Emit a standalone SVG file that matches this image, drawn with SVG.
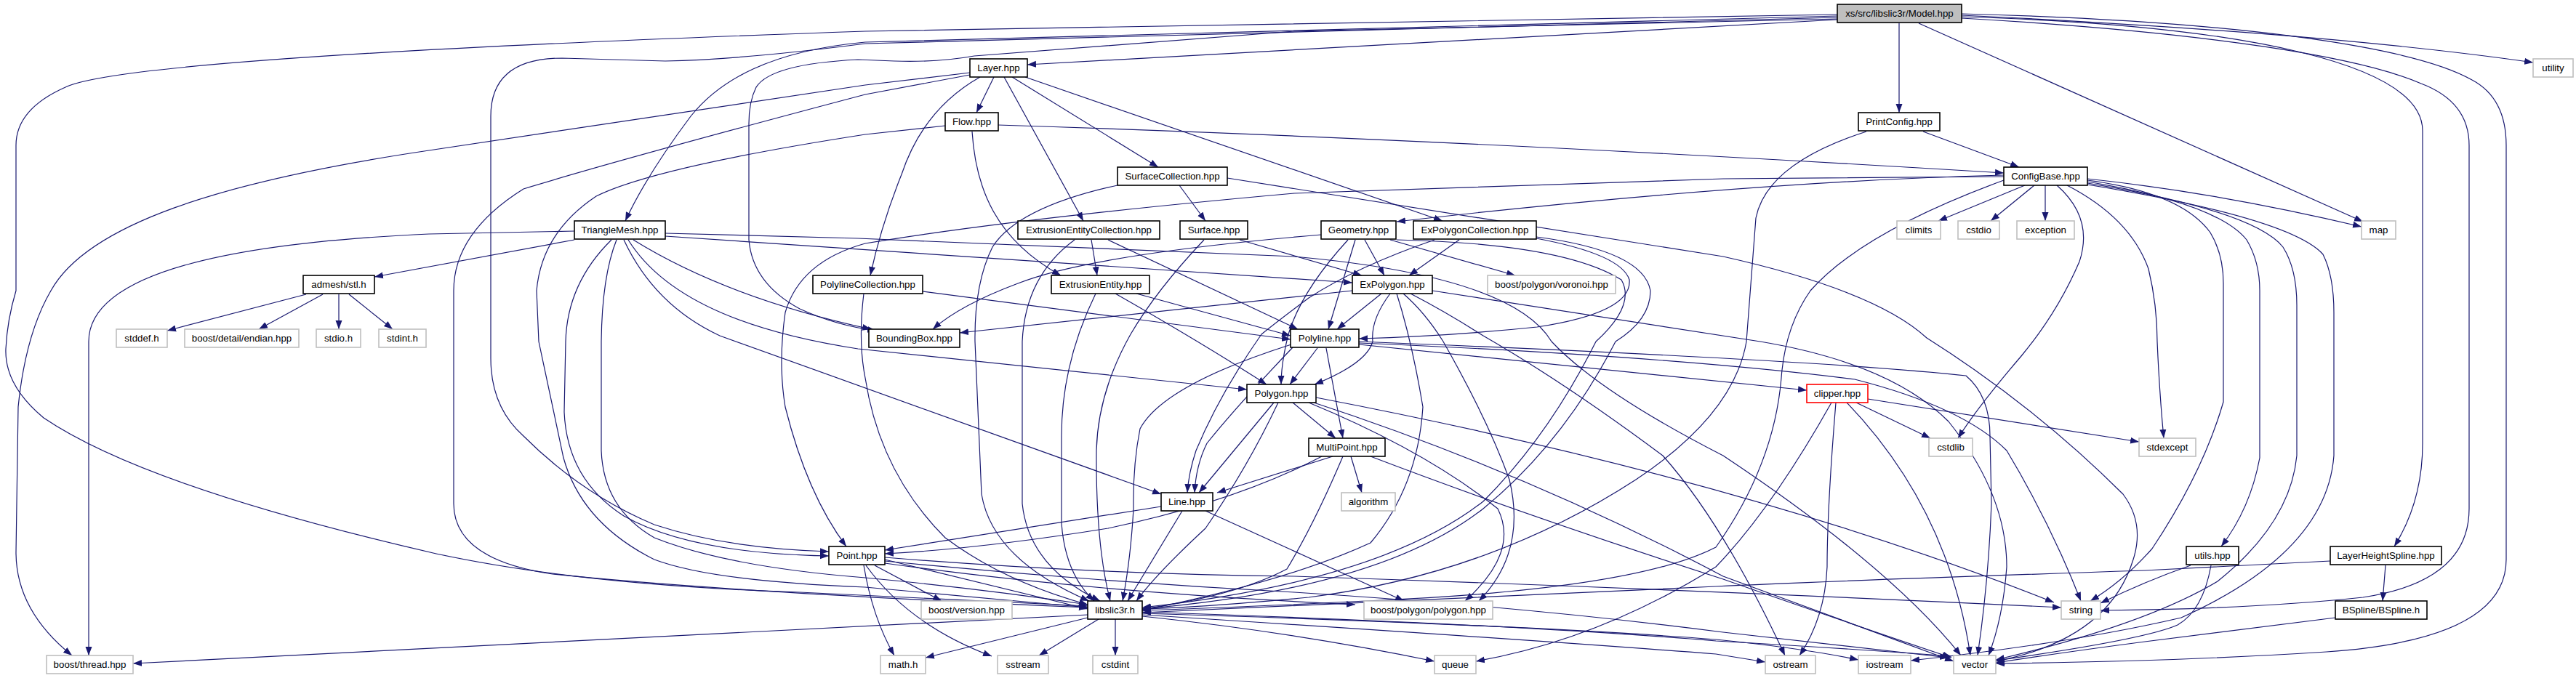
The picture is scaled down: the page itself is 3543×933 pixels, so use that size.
<svg xmlns="http://www.w3.org/2000/svg" width="3543" height="933" viewBox="0 0 3543 933">
<style>
.n rect{fill:#fff;stroke:#000;stroke-width:1.6}
.s rect{fill:#fff;stroke:#bfbfbf;stroke-width:1.6}
.m rect{fill:#bfbfbf;stroke:#000;stroke-width:1.6}
.r rect{fill:#fff;stroke:#ff0000;stroke-width:1.6}
text{font-family:"Liberation Sans",Arial,sans-serif;font-size:13.3px;text-anchor:middle;fill:#000}
#edges path{fill:none;stroke:#191970;stroke-width:1.2;marker-end:url(#a)}
</style>
<defs>
<marker id="a" markerUnits="userSpaceOnUse" markerWidth="12" markerHeight="10" refX="12" refY="5" orient="auto"><path d="M0,0.5 L12,5 L0,9.5 z" fill="#191970"/></marker>
</defs>
<rect width="3543" height="933" fill="#fff"/>
<g id="edges">
<path d="M2527 27 L1413 89"/>
<path d="M2527 20 L1190 43 C700 60 160 85 90 120 Q22 150 22 200 L22 400 Q10 440 8 480 Q6 530 60 575 Q200 670 600 762 Q800 805 1100 815 L1496 834"/>
<path d="M2612 32 L2612 155"/>
<path d="M2639 32 L3250 305"/>
<path d="M2698 21 Q3200 45 3484 86"/>
<path d="M2698 23 C3100 35 3332 90 3332 180 L3332 610 Q3332 690 3293 752"/>
<path d="M2698 25 C3050 45 3250 80 3330 115 Q3396 140 3396 200 L3396 700 Q3396 800 3250 822 Q3100 838 2889 840"/>
<path d="M2698 19 C3120 30 3330 70 3400 110 Q3447 135 3447 200 L3447 770 Q3447 880 3200 897 Q3000 910 2745 913"/>
<path d="M2527 22 L1190 58 C1060 70 990 110 950 160 Q890 240 860 304"/>
<path d="M2527 24 L1190 60 Q1020 82 915 84 L773 80 Q675 80 675 160 L675 493 Q675 560 720 600 Q800 680 900 722 Q1000 755 1140 759"/>
<path d="M2527 26 L1780 43 L1340 77 Q1290 86 1230 84 L1180 82 Q1060 88 1040 120 Q1030 140 1030 170 L1030 330 Q1035 390 1100 425 Q1150 448 1205 455"/>
<path d="M1334 100 L1190 117 Q820 172 590 207 C300 250 120 310 70 400 Q35 460 25 560 L22 760 Q22 840 99 902"/>
<path d="M1334 103 L1190 130 Q850 220 720 260 Q624 320 624 400 L624 693 Q624 770 760 790 Q1000 815 1496 836"/>
<path d="M1367 106 L1343 155"/>
<path d="M1392 106 L1593 230"/>
<path d="M1381 106 L1490 304"/>
<path d="M1410 106 L1984 304"/>
<path d="M1348 106 Q1270 150 1240 240 Q1212 310 1197 379"/>
<path d="M1373 172 Q2000 192 2756 238"/>
<path d="M1337 181 C1342 260 1370 330 1459 379"/>
<path d="M1300 173 L1190 185 Q900 230 820 270 Q745 320 738 400 L741 470 Q760 560 775 630 Q800 720 900 770 Q980 800 1190 808 L1496 836"/>
<path d="M2645 181 L2777 230"/>
<path d="M2567 181 Q2430 225 2415 300 L2402 470 Q2385 570 2250 660 Q2050 790 1800 822 Q1650 836 1571 838"/>
<path d="M790 318 L590 322 C300 335 122 380 122 470 L122 902"/>
<path d="M790 330 L515 381"/>
<path d="M841 330 Q780 390 778 470 L776 567 Q780 660 858 710 Q950 762 1140 765"/>
<path d="M848 330 Q828 380 827 470 L827 620 Q830 700 900 740 Q1000 780 1190 795 Q1350 810 1496 832"/>
<path d="M858 330 Q900 420 990 462 L1597 680"/>
<path d="M864 330 C920 420 1050 460 1180 480 L1715 536"/>
<path d="M871 330 Q1000 410 1198 453"/>
<path d="M915 325 L1860 389"/>
<path d="M915 321 L1180 328 Q1600 345 1780 353 Q2080 380 2134 470 Q2200 540 2370 627 Q2600 780 2697 902"/>
<path d="M421 405 L230 455"/>
<path d="M444 405 L356 453"/>
<path d="M466 405 L466 453"/>
<path d="M480 405 L540 453"/>
<path d="M1622 255 L1658 304"/>
<path d="M1537 255 Q1400 285 1365 340 Q1340 390 1341 470 L1350 680 Q1365 770 1498 827"/>
<path d="M1688 245 L2370 353 Q2580 400 2650 465 Q2800 560 2920 680 Q2950 720 2934 770 Q2900 880 2745 910"/>
<path d="M1501 330 L1509 379"/>
<path d="M1478 330 Q1410 380 1406 470 L1406 693 Q1415 780 1513 827"/>
<path d="M1524 330 L1785 453"/>
<path d="M1705 330 L1873 379"/>
<path d="M1656 330 Q1590 400 1555 460 Q1510 540 1508 620 Q1507 750 1527 827"/>
<path d="M2785 255 L2666 304"/>
<path d="M2798 255 L2738 304"/>
<path d="M2813 255 L2813 304"/>
<path d="M2829 255 Q2880 300 2860 360 Q2830 430 2780 490 Q2720 560 2693 603"/>
<path d="M2843 255 Q2930 300 2955 370 Q2967 420 2967 470 Q2970 540 2976 603"/>
<path d="M2871 246 Q3050 265 3248 312"/>
<path d="M2871 248 Q3000 265 3040 320 Q3058 350 3058 390 L3058 553 Q3030 650 2960 755 Q2920 800 2875 827"/>
<path d="M2871 250 Q3050 280 3090 330 Q3108 360 3108 400 L3108 630 Q3095 700 3055 752"/>
<path d="M2871 252 Q3100 290 3140 340 Q3159 370 3159 420 L3159 627 Q3150 720 3050 800 Q2950 860 2745 908"/>
<path d="M2871 254 Q3150 300 3195 350 Q3210 380 3210 430 L3210 627 Q3200 760 3000 850 Q2850 885 2628 909"/>
<path d="M2756 248 Q2560 320 2490 400 Q2455 450 2450 520 Q2440 640 2360 753 Q2250 810 1900 826 Q1700 836 1571 840"/>
<path d="M2756 243 L2370 246 L1780 266 Q1400 300 1190 335 Q1100 360 1080 430 Q1070 500 1080 560 Q1110 680 1164 752"/>
<path d="M2756 241 Q2400 250 1921 305"/>
<path d="M3013 778 Q2950 800 2889 830"/>
<path d="M3041 778 Q3030 840 2995 860 Q2950 880 2745 909"/>
<path d="M3281 778 L3277 827"/>
<path d="M3205 772 L2950 785 Q2500 800 2360 807 Q2000 825 1571 843"/>
<path d="M3212 850 L2950 883 Q2850 896 2745 912"/>
<path d="M1817 323 Q1500 350 1400 390 Q1320 420 1283 453"/>
<path d="M1864 330 L1827 453"/>
<path d="M1877 330 L1904 379"/>
<path d="M1912 330 L2084 379"/>
<path d="M1854 330 Q1790 400 1772 460 Q1762 500 1762 529"/>
<path d="M1921 330 Q2150 335 2230 385 Q2250 420 2195 470 Q2130 600 2040 690 Q1900 800 1571 836"/>
<path d="M2007 330 L1938 379"/>
<path d="M1973 330 Q1866 367 1800 410 Q1760 440 1735 460 Q1677 543 1645 620 Q1635 650 1633 678"/>
<path d="M2113 328 Q2230 350 2241 385 Q2245 430 2114 450 Q2000 462 1869 466"/>
<path d="M2113 326 Q2260 345 2270 400 Q2270 440 2222 470 Q2150 610 2040 700 Q1900 810 1571 838"/>
<path d="M1507 404 Q1460 500 1460 600 L1460 720 Q1465 790 1505 827"/>
<path d="M1534 404 Q1650 470 1742 529"/>
<path d="M1563 404 L1775 462"/>
<path d="M1269 401 L1775 467"/>
<path d="M1188 404 Q1180 470 1190 520 Q1210 650 1300 740 Q1380 800 1496 832"/>
<path d="M1900 404 L1839 453"/>
<path d="M1912 404 Q1885 440 1888 470 Q1880 500 1808 529"/>
<path d="M1921 404 Q1942 470 1957 560 Q1950 670 1885 747 Q1770 800 1571 840"/>
<path d="M1930 404 Q1960 430 1985 470 Q2046 577 2076 660 Q2100 760 2034 827"/>
<path d="M1940 404 Q1990 430 2040 462 Q2153 527 2287 627 Q2370 720 2455 902"/>
<path d="M1970 400 L2421 470 Q2600 500 2680 580 Q2760 680 2760 780 Q2755 850 2735 902"/>
<path d="M1812 479 L1774 529"/>
<path d="M1824 479 L1847 603"/>
<path d="M1869 470 Q2500 495 2704 517 Q2737 545 2737 600 L2739 693 Q2735 800 2720 902"/>
<path d="M1869 472 Q2300 490 2551 522 Q2700 560 2760 620 Q2820 720 2862 827"/>
<path d="M1869 474 L2485 537"/>
<path d="M1778 478 Q1700 560 1660 610 Q1645 640 1643 678"/>
<path d="M1776 474 Q1600 530 1568 590 Q1558 640 1559 700 Q1555 770 1544 827"/>
<path d="M1752 554 L1649 678"/>
<path d="M1758 554 Q1716 643 1658 727 Q1590 790 1563 827"/>
<path d="M1778 554 L1837 603"/>
<path d="M1810 547 Q2400 660 2825 829"/>
<path d="M1804 553 Q2100 650 2370 793 Q2550 860 2687 910"/>
<path d="M1800 554 Q1960 620 2060 700 Q2090 760 2015 827"/>
<path d="M1858 628 L1873 678"/>
<path d="M1847 628 Q1808 720 1770 783 Q1700 820 1571 838"/>
<path d="M1833 628 L1674 678"/>
<path d="M1818 628 Q1700 690 1524 727 Q1350 755 1217 762"/>
<path d="M1885 628 Q2100 710 2370 797 Q2550 860 2684 905"/>
<path d="M1597 697 L1217 757"/>
<path d="M1626 703 L1551 827"/>
<path d="M1658 703 L1931 827"/>
<path d="M1217 770 L1496 838"/>
<path d="M1203 778 L1295 827"/>
<path d="M1188 778 Q1200 850 1230 902"/>
<path d="M1191 778 Q1250 860 1364 903"/>
<path d="M1217 767 Q1500 790 1780 793 Q2300 810 2835 836"/>
<path d="M1217 772 Q1500 800 1780 815 Q2100 835 2370 870 Q2550 890 2680 905"/>
<path d="M1217 775 Q1500 815 1864 832"/>
<path d="M1496 846 L183 913"/>
<path d="M1496 850 L1273 905"/>
<path d="M1511 852 L1429 902"/>
<path d="M1534 852 L1534 902"/>
<path d="M1571 848 Q1780 870 1973 910"/>
<path d="M1571 846 Q2100 880 2360 900 L2428 911"/>
<path d="M1571 844 Q2100 860 2360 880 Q2480 892 2556 908"/>
<path d="M1571 842 Q2100 860 2360 882 Q2550 893 2684 903"/>
<path d="M2553 554 L2655 603"/>
<path d="M2569 549 L2942 608"/>
<path d="M2540 554 Q2680 700 2710 902"/>
<path d="M2525 554 Q2513 700 2513 780 Q2510 850 2475 902"/>
<path d="M2519 554 Q2437 700 2360 780 Q2200 880 2030 910"/>
<path d="M1860 400 L1320 458"/>
</g>
<g id="nodes">
<g id="model" class="m"><rect x="2527" y="6" width="171" height="25"/><text x="2612.5" y="23">xs/src/libslic3r/Model.hpp</text></g>
<g id="layer" class="n"><rect x="1334" y="81" width="79" height="25"/><text x="1373.5" y="98">Layer.hpp</text></g>
<g id="printconfig" class="n"><rect x="2556" y="155" width="112" height="25"/><text x="2612" y="172">PrintConfig.hpp</text></g>
<g id="utility" class="s"><rect x="3484" y="81" width="55" height="25"/><text x="3511.5" y="98">utility</text></g>
<g id="flow" class="n"><rect x="1300" y="155" width="73" height="25"/><text x="1336.5" y="172">Flow.hpp</text></g>
<g id="surfacecollection" class="n"><rect x="1537" y="230" width="151" height="25"/><text x="1612.5" y="247">SurfaceCollection.hpp</text></g>
<g id="configbase" class="n"><rect x="2756" y="230" width="115" height="25"/><text x="2813.5" y="247">ConfigBase.hpp</text></g>
<g id="trianglemesh" class="n"><rect x="790" y="304" width="125" height="25"/><text x="852.5" y="321">TriangleMesh.hpp</text></g>
<g id="eec" class="n"><rect x="1400" y="304" width="195" height="25"/><text x="1497.5" y="321">ExtrusionEntityCollection.hpp</text></g>
<g id="surface" class="n"><rect x="1623" y="304" width="93" height="25"/><text x="1669.5" y="321">Surface.hpp</text></g>
<g id="geometry" class="n"><rect x="1817" y="304" width="103" height="25"/><text x="1868.5" y="321">Geometry.hpp</text></g>
<g id="expolygoncollection" class="n"><rect x="1944" y="304" width="169" height="25"/><text x="2028.5" y="321">ExPolygonCollection.hpp</text></g>
<g id="climits" class="s"><rect x="2609" y="304" width="60" height="25"/><text x="2639" y="321">climits</text></g>
<g id="cstdio" class="s"><rect x="2693" y="304" width="57" height="25"/><text x="2721.5" y="321">cstdio</text></g>
<g id="exception" class="s"><rect x="2774" y="304" width="79" height="25"/><text x="2813.5" y="321">exception</text></g>
<g id="map" class="s"><rect x="3248" y="304" width="47" height="25"/><text x="3271.5" y="321">map</text></g>
<g id="admesh" class="n"><rect x="417" y="379" width="98" height="25"/><text x="466" y="396">admesh/stl.h</text></g>
<g id="polylinecollection" class="n"><rect x="1118" y="379" width="151" height="25"/><text x="1193.5" y="396">PolylineCollection.hpp</text></g>
<g id="extrusionentity" class="n"><rect x="1446" y="379" width="135" height="25"/><text x="1513.5" y="396">ExtrusionEntity.hpp</text></g>
<g id="expolygon" class="n"><rect x="1860" y="379" width="110" height="25"/><text x="1915" y="396">ExPolygon.hpp</text></g>
<g id="voronoi" class="s"><rect x="2046" y="379" width="176" height="25"/><text x="2134" y="396">boost/polygon/voronoi.hpp</text></g>
<g id="stddef" class="s"><rect x="160" y="453" width="70" height="25"/><text x="195" y="470">stddef.h</text></g>
<g id="endian" class="s"><rect x="254" y="453" width="157" height="25"/><text x="332.5" y="470">boost/detail/endian.hpp</text></g>
<g id="stdio" class="s"><rect x="435" y="453" width="61" height="25"/><text x="465.5" y="470">stdio.h</text></g>
<g id="stdint" class="s"><rect x="521" y="453" width="65" height="25"/><text x="553.5" y="470">stdint.h</text></g>
<g id="boundingbox" class="n"><rect x="1195" y="453" width="125" height="25"/><text x="1257.5" y="470">BoundingBox.hpp</text></g>
<g id="polyline" class="n"><rect x="1775" y="453" width="94" height="25"/><text x="1822" y="470">Polyline.hpp</text></g>
<g id="polygon" class="n"><rect x="1715" y="529" width="95" height="25"/><text x="1762.5" y="546">Polygon.hpp</text></g>
<g id="clipper" class="r"><rect x="2485" y="529" width="84" height="25"/><text x="2527" y="546">clipper.hpp</text></g>
<g id="multipoint" class="n"><rect x="1800" y="603" width="105" height="25"/><text x="1852.5" y="620">MultiPoint.hpp</text></g>
<g id="cstdlib" class="s"><rect x="2653" y="603" width="60" height="25"/><text x="2683" y="620">cstdlib</text></g>
<g id="stdexcept" class="s"><rect x="2942" y="603" width="78" height="25"/><text x="2981" y="620">stdexcept</text></g>
<g id="line" class="n"><rect x="1597" y="678" width="71" height="25"/><text x="1632.5" y="695">Line.hpp</text></g>
<g id="algorithm" class="s"><rect x="1845" y="678" width="74" height="25"/><text x="1882" y="695">algorithm</text></g>
<g id="point" class="n"><rect x="1140" y="752" width="77" height="25"/><text x="1178.5" y="769">Point.hpp</text></g>
<g id="utils" class="n"><rect x="3007" y="752" width="72" height="25"/><text x="3043" y="769">utils.hpp</text></g>
<g id="layerheightspline" class="n"><rect x="3205" y="752" width="153" height="25"/><text x="3281.5" y="769">LayerHeightSpline.hpp</text></g>
<g id="boostversion" class="s"><rect x="1267" y="827" width="125" height="25"/><text x="1329.5" y="844">boost/version.hpp</text></g>
<g id="libslic3r" class="n"><rect x="1496" y="827" width="75" height="25"/><text x="1533.5" y="844">libslic3r.h</text></g>
<g id="boostpolygon" class="s"><rect x="1876" y="827" width="177" height="25"/><text x="1964.5" y="844">boost/polygon/polygon.hpp</text></g>
<g id="string" class="s"><rect x="2835" y="827" width="54" height="25"/><text x="2862" y="844">string</text></g>
<g id="bspline" class="n"><rect x="3212" y="827" width="126" height="25"/><text x="3275" y="844">BSpline/BSpline.h</text></g>
<g id="boostthread" class="s"><rect x="64" y="902" width="119" height="25"/><text x="123.5" y="919">boost/thread.hpp</text></g>
<g id="math" class="s"><rect x="1211" y="902" width="62" height="25"/><text x="1242" y="919">math.h</text></g>
<g id="sstream" class="s"><rect x="1372" y="902" width="70" height="25"/><text x="1407" y="919">sstream</text></g>
<g id="cstdint" class="s"><rect x="1503" y="902" width="62" height="25"/><text x="1534" y="919">cstdint</text></g>
<g id="queue" class="s"><rect x="1973" y="902" width="57" height="25"/><text x="2001.5" y="919">queue</text></g>
<g id="ostream" class="s"><rect x="2428" y="902" width="69" height="25"/><text x="2462.5" y="919">ostream</text></g>
<g id="iostream" class="s"><rect x="2556" y="902" width="72" height="25"/><text x="2592" y="919">iostream</text></g>
<g id="vector" class="s"><rect x="2687" y="902" width="58" height="25"/><text x="2716" y="919">vector</text></g>
</g>
</svg>
